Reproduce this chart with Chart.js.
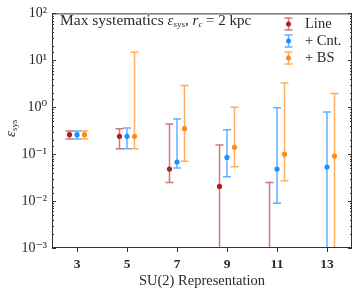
<!DOCTYPE html>
<html lang="en">
<head>
<meta charset="UTF-8" />
<title>Max systematics</title>
<script src="https://cdn.jsdelivr.net/npm/chart.js"></script>
<style>
    body { margin: 0; background: #ffffff; }
    #wrap { width: 357px; height: 293px; }
</style>
</head>
<body>
<div id="wrap"><canvas id="chart"></canvas></div>
<script>
const reps = [3, 5, 7, 9, 11, 13];
const xTicks = [3, 5, 7, 9, 11, 13];
const yTicks = [1e-3, 1e-2, 1e-1, 1, 10, 100];
const shift = 0.3;

// Line only (null = not shown)
const lineVal = [0.26, 0.24, 0.048, 0.0205, 0.0005, null];
const lineLo  = [0.21, 0.13, 0.025, 0.00001, 0.00001, null];
const lineHi  = [0.31, 0.35, 0.44, 0.156, 0.025, null];

// + continuum
const cntVal = [0.26, 0.24, 0.068, 0.085, 0.048, 0.053];
const cntLo  = [0.21, 0.13, 0.051, 0.033, 0.009, 0.00001];
const cntHi  = [0.31, 0.36, 0.56, 0.33, 0.97, 0.79];

// + BS
const bsVal = [0.26, 0.24, 0.35, 0.14, 0.10, 0.091];
const bsLo  = [0.21, 0.13, 0.071, 0.054, 0.027, 0.00001];
const bsHi  = [0.31, 14.9, 2.9, 1.0, 3.3, 1.96];

const labels = ['Line', '+ Cnt.', '+ BS'];
const colors = ['#b01e1e', '#1e8fff', '#ff8a1c'];
const barColors = ['rgba(176,30,30,0.6)', 'rgba(30,143,255,0.7)', 'rgba(255,138,28,0.7)'];

const SERIF = '"Liberation Serif", "DejaVu Serif", serif';
const TXT = '#2a2a2a';

function points(vals, lo, hi, dx) {
    const out = [];
    reps.forEach((r, i) => {
        if (vals[i] === null) return;
        out.push({x: r + dx, y: vals[i], lo: lo[i], hi: hi[i]});
    });
    return out;
}

const supers = {'-': '⁻', '0': '⁰', '1': '¹', '2': '²', '3': '³'};
function powLabel(v) {
    const e = String(Math.round(Math.log10(v)));
    return '10' + e.split('').map(c => supers[c]).join('');
}

// draws text runs: [text, size, dy, italic]
function drawRuns(ctx, x, y, runs) {
    runs.forEach(r => {
        ctx.font = (r[3] ? 'italic ' : '') + r[1] + 'px ' + SERIF;
        ctx.fillText(r[0], x, y + (r[2] || 0));
        x += ctx.measureText(r[0]).width;
    });
}

const errorBars = {
    id: 'errorBars',
    beforeDatasetsDraw(chart) {
        const {ctx, chartArea, scales} = chart;
        ctx.save();
        ctx.beginPath();
        ctx.rect(chartArea.left, chartArea.top, chartArea.right - chartArea.left, chartArea.bottom - chartArea.top);
        ctx.clip();
        ctx.lineWidth = 1.5;
        chart.data.datasets.forEach((ds, di) => {
            ctx.strokeStyle = barColors[di];
            ds.data.forEach(p => {
                const x = scales.x.getPixelForValue(p.x);
                const y1 = scales.y.getPixelForValue(p.lo);
                const y2 = scales.y.getPixelForValue(p.hi);
                ctx.beginPath();
                ctx.moveTo(x, y1); ctx.lineTo(x, y2);
                ctx.moveTo(x - 4, y1); ctx.lineTo(x + 4, y1);
                ctx.moveTo(x - 4, y2); ctx.lineTo(x + 4, y2);
                ctx.stroke();
            });
        });
        ctx.restore();
    }
};

const frame = {
    id: 'frame',
    afterDraw(chart) {
        const {ctx, chartArea: a, scales} = chart;
        ctx.save();
        ctx.strokeStyle = '#333';
        ctx.lineWidth = 1;
        ctx.strokeRect(a.left + 0.5, a.top + 0.5, a.right - a.left - 1, a.bottom - a.top - 1);
        // y ticks inside, both sides
        scales.y.ticks.forEach(t => {
            const y = Math.round(scales.y.getPixelForValue(t.value)) + 0.5;
            const major = yTicks.some(v => Math.abs(v - t.value) / v < 1e-6);
            const len = major ? 4 : 2;
            ctx.beginPath();
            ctx.moveTo(a.left, y); ctx.lineTo(a.left + len, y);
            ctx.moveTo(a.right, y); ctx.lineTo(a.right - len, y);
            ctx.stroke();
        });
        // x ticks outside
        xTicks.forEach(v => {
            const x = Math.round(scales.x.getPixelForValue(v)) + 0.5;
            ctx.beginPath();
            ctx.moveTo(x, a.bottom); ctx.lineTo(x, a.bottom + 4);
            ctx.stroke();
        });

        ctx.fillStyle = TXT;
        ctx.textBaseline = 'middle';
        ctx.textAlign = 'left';
        // annotation
        drawRuns(ctx, a.left + 8, 21, [
            ['Max systematics ', 15.5], ['ε', 15, 0, true], ['sys', 9, 4], [', ', 15],
            ['r', 15, 0, true], ['c', 9, 4, true], [' = 2 kpc', 15]
        ]);
        // legend
        const ly = [24, 41, 58];
        labels.forEach((lab, i) => {
            const x = 288.5, y = ly[i];
            ctx.strokeStyle = barColors[i];
            ctx.lineWidth = 1.5;
            ctx.beginPath();
            ctx.moveTo(x, y - 6); ctx.lineTo(x, y + 6);
            ctx.moveTo(x - 4, y - 6); ctx.lineTo(x + 4, y - 6);
            ctx.moveTo(x - 4, y + 6); ctx.lineTo(x + 4, y + 6);
            ctx.stroke();
            ctx.fillStyle = colors[i];
            ctx.beginPath();
            ctx.arc(x, y, 2.5, 0, Math.PI * 2);
            ctx.fill();
            ctx.fillStyle = TXT;
            ctx.font = '14.5px ' + SERIF;
            ctx.fillText(lab, 305, y);
        });
        // axis titles
        ctx.textAlign = 'center';
        ctx.font = '14.5px ' + SERIF;
        ctx.fillText('SU(2) Representation', (a.left + a.right) / 2, 281);
        ctx.translate(11, 128);
        ctx.rotate(-Math.PI / 2);
        ctx.textAlign = 'left';
        drawRuns(ctx, -9, 0, [['ε', 15, 0, true], ['sys', 9, 4]]);
        ctx.restore();
    }
};

const datasets = [
    points(lineVal, lineLo, lineHi, -shift),
    points(cntVal, cntLo, cntHi, 0),
    points(bsVal, bsLo, bsHi, shift)
].map((d, i) => ({
    label: labels[i],
    data: d,
    backgroundColor: colors[i],
    borderColor: colors[i],
    pointRadius: 2.6,
    pointBorderWidth: 0
}));

new Chart(document.getElementById('chart'), {
    type: 'scatter',
    data: {datasets},
    options: {
        responsive: true,
        maintainAspectRatio: false,
        animation: false,
        layout: {padding: {top: 8, right: 5, left: 0, bottom: 0}},
        plugins: {legend: {display: false}, tooltip: {enabled: false}},
        scales: {
            x: {
                type: 'linear', min: 2, max: 14,
                grid: {display: false, drawTicks: false},
                border: {display: false},
                afterBuildTicks: s => { s.ticks = xTicks.map(v => ({value: v})); },
                afterFit: s => { s.height = 45; },
                ticks: {
                    padding: 8, color: TXT,
                    font: {family: SERIF, size: 13.5, weight: 'bold'},
                    callback: v => String(v)
                }
            },
            y: {
                type: 'logarithmic', min: 1e-3, max: 1e2,
                grid: {display: false, drawTicks: false},
                border: {display: false},
                afterFit: s => { s.width = 52; },
                ticks: {
                    padding: 5, color: TXT, autoSkip: false,
                    font: {family: SERIF, size: 14},
                    callback: v => yTicks.some(t => Math.abs(t - v) / t < 1e-6) ? powLabel(v) : ''
                }
            }
        }
    },
    plugins: [errorBars, frame]
});
</script>
</body>
</html>
